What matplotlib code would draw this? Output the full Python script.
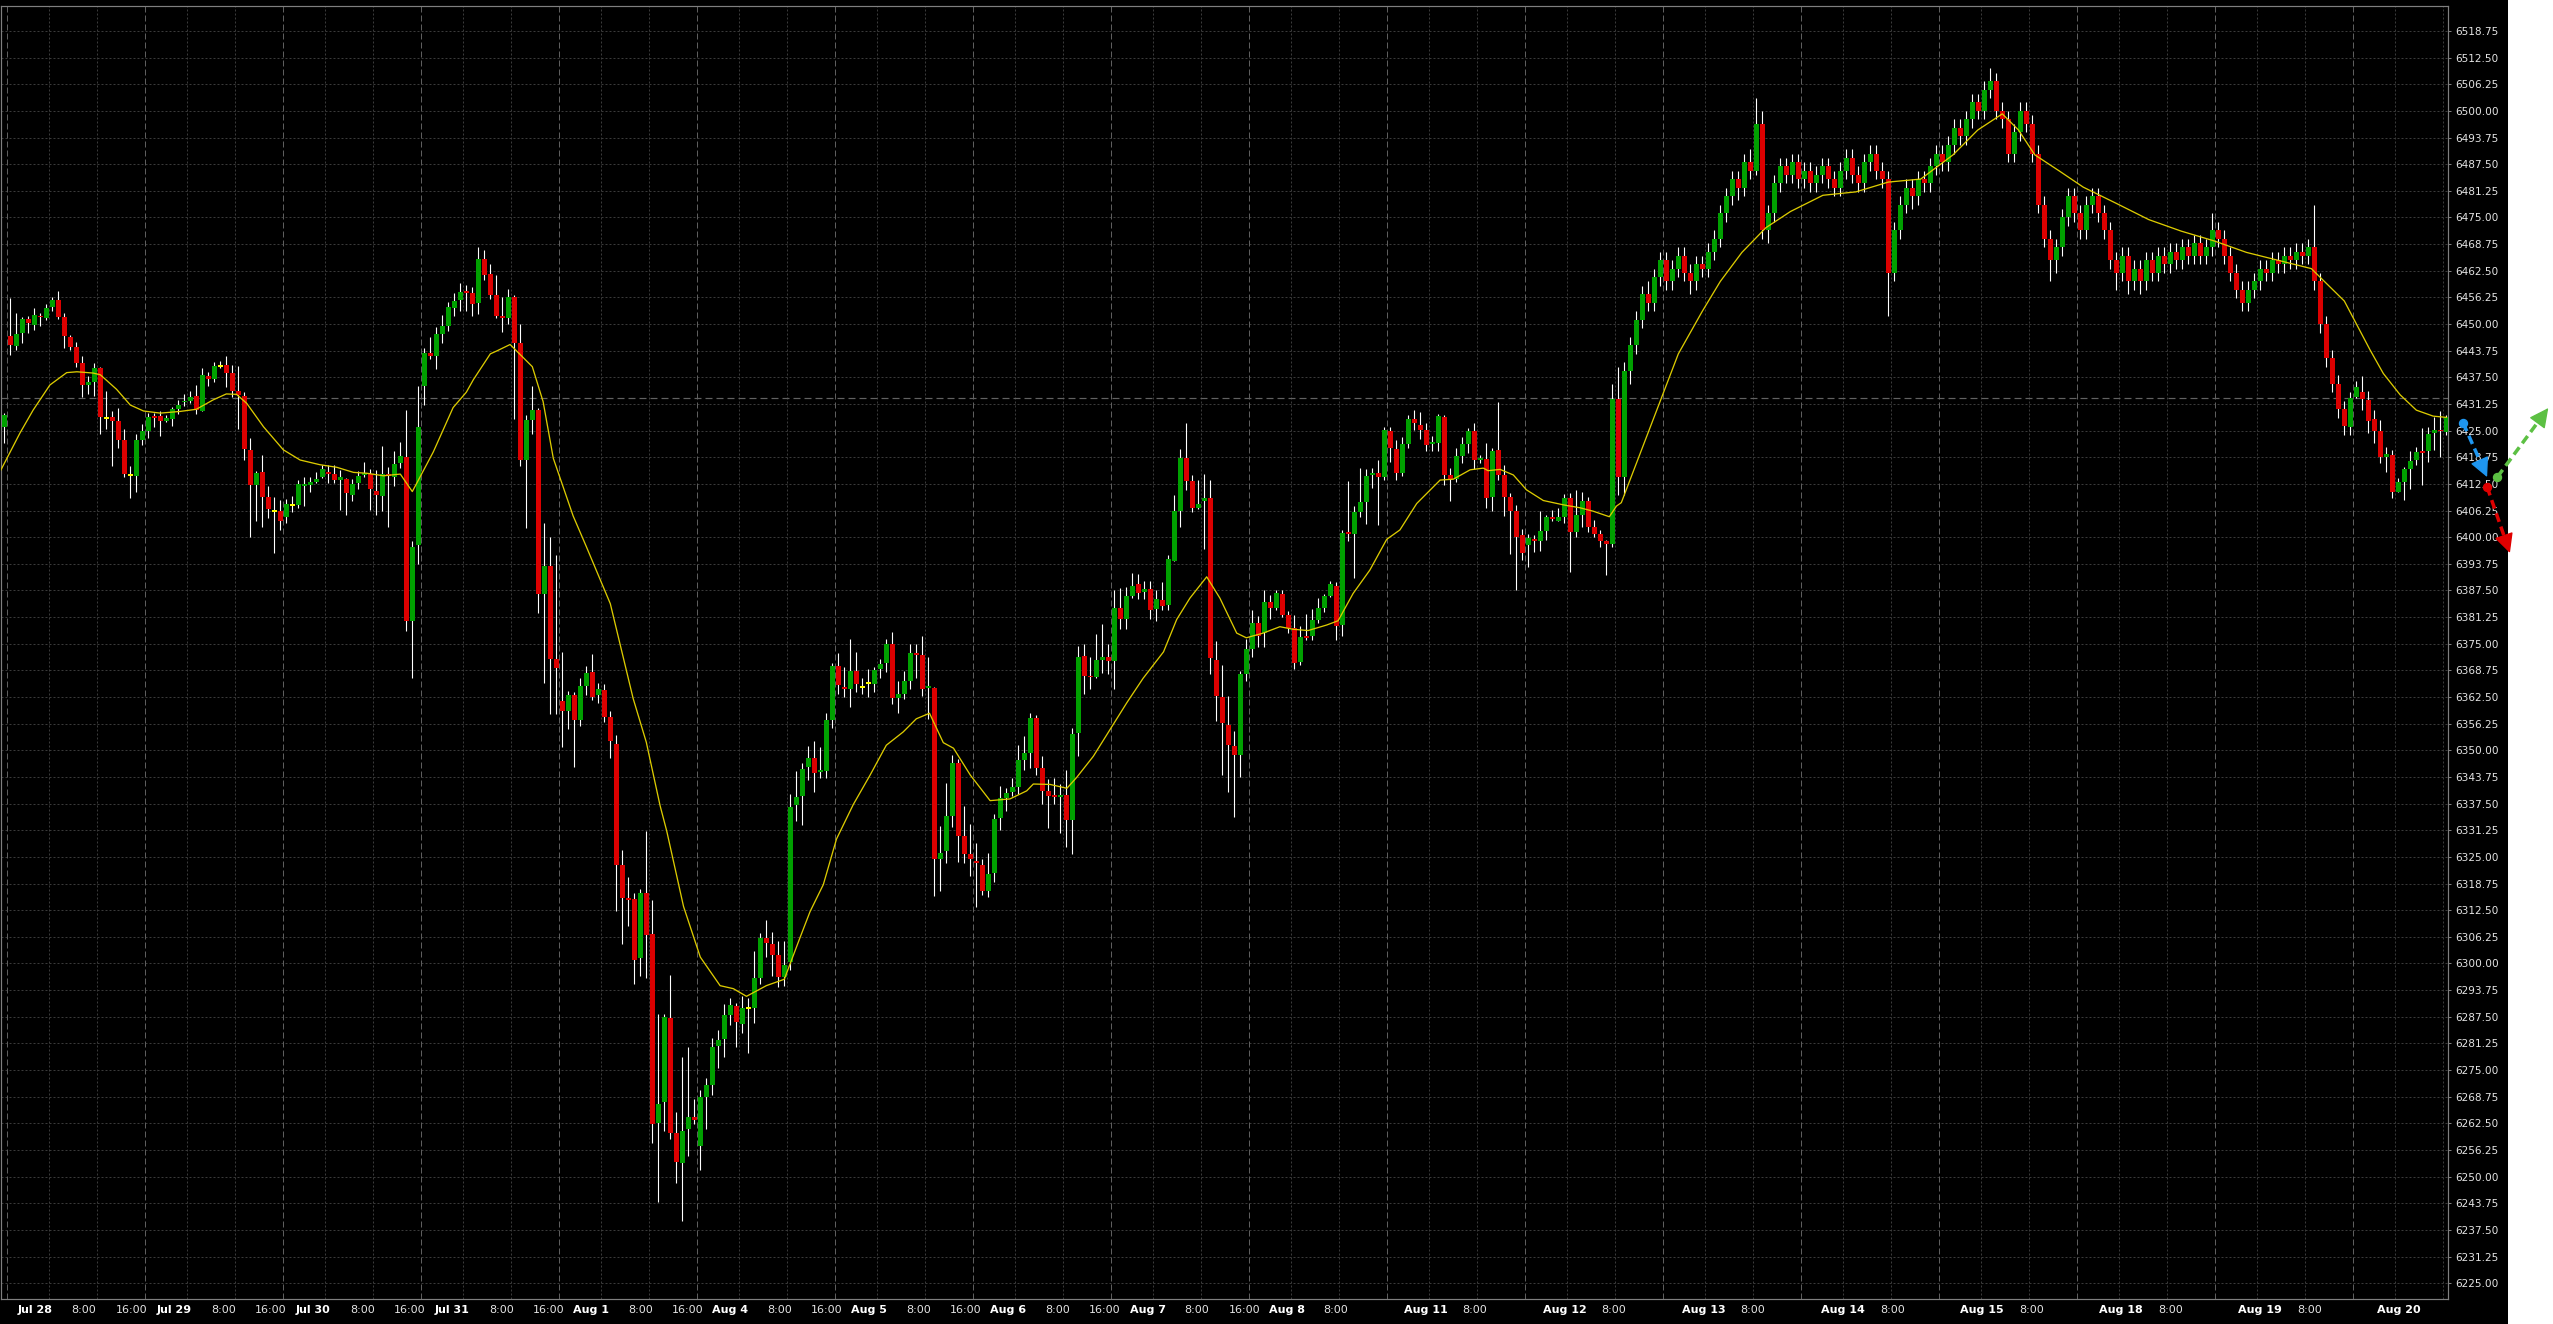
import numpy as np
import matplotlib
matplotlib.use("Agg")
import matplotlib.pyplot as plt
from matplotlib.patches import Rectangle

W, H, DPI = 2553, 1324, 100
PT = 72.0 / DPI          # points per pixel
plt.rcParams['lines.scale_dashes'] = False
plt.rcParams['font.family'] = ['DejaVu Sans']

# hourly bars, Jul 28 .. Aug 20 (23 bars per session)
opens = [
    6425.9, 6447.2, 6444.9, 6448.0, 6451.2, 6449.8, 6452.0, 6451.5, 6453.9, 6455.7,
    6451.6, 6447.0, 6444.7, 6440.9, 6435.6, 6436.3, 6439.8, 6428.0, 6428.1, 6427.3,
    6422.7, 6414.5, 6414.4, 6422.8, 6424.8, 6428.4, 6428.4, 6427.3, 6427.7, 6430.1,
    6431.6, 6432.0, 6433.2, 6429.7, 6437.9, 6437.1, 6440.2, 6440.4, 6438.5, 6434.3,
    6433.2, 6420.5, 6412.3, 6415.2, 6409.5, 6406.2, 6406.2, 6404.7, 6407.6, 6407.6,
    6412.1, 6412.3, 6413.0, 6414.0, 6415.3, 6414.8, 6413.5, 6413.6, 6409.9, 6412.7,
    6414.5, 6414.8, 6410.9, 6409.7, 6414.8, 6414.2, 6417.3, 6418.8, 6380.4, 6398.1,
    6435.4, 6443.2, 6442.5, 6447.7, 6449.6, 6453.8, 6455.7, 6457.8, 6457.3, 6454.9,
    6465.3, 6461.8, 6456.7, 6451.8, 6451.4, 6456.3, 6445.5, 6418.1, 6427.4, 6429.9,
    6386.7, 6393.3, 6371.4, 6361.5, 6359.3, 6363.0, 6357.0, 6365.2, 6368.4, 6363.0,
    6364.2, 6357.8, 6351.6, 6323.0, 6315.3, 6315.1, 6301.2, 6316.6, 6307.0, 6262.6,
    6267.4, 6287.1, 6260.3, 6253.1, 6261.1, 6264.0, 6257.1, 6268.6, 6271.4, 6280.7,
    6282.3, 6287.9, 6290.1, 6285.9, 6289.6, 6289.6, 6296.6, 6306.0, 6304.5, 6302.0,
    6296.8, 6300.3, 6337.1, 6339.3, 6346.0, 6348.2, 6345.0, 6345.2, 6357.2, 6369.7,
    6364.8, 6364.4, 6368.6, 6364.9, 6365.9, 6365.6, 6369.0, 6370.6, 6375.0, 6362.2,
    6363.3, 6366.2, 6372.9, 6372.3, 6364.6, 6364.6, 6324.5, 6326.3, 6334.6, 6347.0,
    6329.8, 6325.8, 6324.1, 6323.1, 6317.0, 6321.3, 6334.2, 6338.9, 6340.2, 6341.5,
    6347.8, 6349.3, 6357.6, 6345.9, 6340.5, 6339.6, 6339.0, 6339.5, 6333.6, 6354.0,
    6372.1, 6367.5, 6367.1, 6371.2, 6371.9, 6371.0, 6383.4, 6380.7, 6386.2, 6389.1,
    6387.2, 6387.8, 6383.2, 6385.3, 6384.1, 6394.5, 6406.2, 6418.6, 6413.1, 6406.8,
    6408.6, 6409.3, 6371.3, 6362.4, 6355.9, 6351.1, 6348.9, 6367.9, 6373.7, 6379.8,
    6377.6, 6384.7, 6383.5, 6386.6, 6381.8, 6378.6, 6370.7, 6376.8, 6376.8, 6380.6,
    6383.3, 6386.1, 6388.6, 6379.4, 6401.1, 6400.7, 6405.9, 6408.3, 6414.6, 6415.0,
    6414.0, 6424.8, 6420.7, 6415.0, 6421.9, 6427.7, 6426.3, 6425.2, 6421.8, 6422.2,
    6428.3, 6414.6, 6413.7, 6419.1, 6421.9, 6424.8, 6418.1, 6418.3, 6409.4, 6420.5,
    6414.6, 6409.5, 6406.2, 6400.5, 6398.2, 6399.5, 6399.0, 6401.5, 6404.8, 6403.8,
    6404.8, 6409.1, 6401.3, 6405.2, 6408.6, 6402.5, 6400.8, 6399.1, 6398.4, 6432.3,
    6414.2, 6439.0, 6445.0, 6451.0, 6457.0, 6455.0, 6461.0, 6465.0, 6460.0, 6463.0,
    6466.0, 6462.0, 6460.0, 6464.0, 6463.0, 6467.0, 6470.0, 6476.0, 6480.0, 6484.0,
    6482.0, 6488.0, 6486.0, 6497.0, 6472.0, 6476.0, 6483.0, 6487.0, 6485.0, 6488.0,
    6484.0, 6486.0, 6483.0, 6485.0, 6487.0, 6484.0, 6482.0, 6486.0, 6489.0, 6485.0,
    6483.0, 6488.0, 6490.0, 6486.0, 6484.0, 6462.0, 6472.0, 6478.0, 6482.0, 6480.0,
    6484.0, 6483.0, 6487.0, 6490.0, 6488.0, 6492.0, 6496.0, 6494.0, 6498.0, 6502.0,
    6500.0, 6505.0, 6507.0, 6500.0, 6498.0, 6490.0, 6495.0, 6500.0, 6497.0, 6490.0,
    6478.0, 6470.0, 6465.0, 6468.0, 6475.0, 6480.0, 6476.0, 6472.0, 6478.0, 6480.0,
    6476.0, 6472.0, 6465.0, 6462.0, 6466.0, 6460.0, 6463.0, 6460.0, 6465.0, 6462.0,
    6466.0, 6464.0, 6467.0, 6465.0, 6468.0, 6466.0, 6469.0, 6466.0, 6468.0, 6472.0,
    6470.0, 6466.0, 6462.0, 6458.0, 6455.0, 6458.0, 6460.0, 6463.0, 6462.0, 6465.0,
    6464.0, 6466.0, 6465.0, 6467.0, 6466.0, 6468.0, 6460.0, 6450.0, 6442.0, 6436.0,
    6430.0, 6425.9, 6433.0, 6434.0, 6432.2, 6427.7, 6424.9, 6418.7, 6419.3, 6410.7,
    6412.9, 6416.0, 6418.1, 6420.2, 6420.1, 6424.4, 6425.2, 6424.6,
]
highs = [
    6429.2, 6456.0, 6452.5, 6451.6, 6451.8, 6453.7, 6452.5, 6454.7, 6456.4, 6457.8,
    6452.5, 6447.4, 6445.9, 6442.4, 6437.7, 6440.8, 6440.0, 6434.3, 6429.5, 6430.2,
    6425.4, 6416.7, 6424.2, 6426.6, 6429.2, 6429.2, 6429.5, 6428.7, 6430.6, 6432.2,
    6433.7, 6434.4, 6435.7, 6439.8, 6438.8, 6441.2, 6441.4, 6442.5, 6440.4, 6440.2,
    6434.0, 6423.2, 6415.6, 6419.3, 6411.9, 6409.5, 6408.7, 6408.9, 6409.7, 6413.3,
    6414.2, 6414.2, 6415.4, 6417.0, 6417.0, 6417.0, 6415.8, 6413.8, 6413.6, 6415.6,
    6417.7, 6416.0, 6415.8, 6421.3, 6416.4, 6420.1, 6422.4, 6429.8, 6399.0, 6435.5,
    6444.4, 6446.9, 6449.2, 6452.1, 6455.2, 6457.3, 6459.7, 6459.1, 6458.8, 6468.0,
    6467.4, 6464.1, 6461.5, 6456.3, 6458.2, 6456.7, 6450.0, 6428.6, 6435.5, 6430.4,
    6403.4, 6400.0, 6395.8, 6373.0, 6364.0, 6363.7, 6367.0, 6369.9, 6372.6, 6365.9,
    6365.5, 6359.3, 6353.6, 6326.7, 6320.3, 6316.6, 6317.4, 6331.1, 6314.8, 6288.2,
    6288.2, 6297.4, 6265.2, 6278.1, 6280.5, 6268.2, 6270.4, 6273.1, 6282.5, 6284.5,
    6290.4, 6291.9, 6290.8, 6292.3, 6291.9, 6303.0, 6307.1, 6310.1, 6307.4, 6305.2,
    6305.2, 6339.7, 6345.2, 6347.1, 6351.1, 6352.2, 6350.8, 6358.7, 6370.6, 6372.8,
    6369.6, 6376.0, 6373.1, 6366.9, 6369.0, 6369.6, 6371.5, 6376.0, 6377.8, 6366.2,
    6368.7, 6375.0, 6375.0, 6376.9, 6371.9, 6364.8, 6332.3, 6342.4, 6348.9, 6348.0,
    6336.9, 6332.7, 6328.2, 6324.4, 6326.0, 6335.1, 6341.7, 6341.1, 6343.6, 6351.2,
    6353.3, 6358.7, 6358.3, 6348.6, 6343.2, 6343.6, 6342.0, 6345.3, 6355.3, 6374.4,
    6375.0, 6371.9, 6377.2, 6379.7, 6375.0, 6387.6, 6388.0, 6388.2, 6391.7, 6391.4,
    6389.7, 6389.7, 6387.6, 6389.5, 6395.8, 6409.8, 6420.6, 6426.8, 6414.6, 6413.3,
    6414.9, 6413.3, 6375.7, 6370.0, 6362.8, 6354.6, 6368.6, 6376.0, 6382.9, 6381.4,
    6387.6, 6386.4, 6387.5, 6387.5, 6382.8, 6381.8, 6379.2, 6382.0, 6383.1, 6385.7,
    6386.7, 6389.8, 6389.6, 6401.7, 6413.2, 6407.3, 6416.2, 6415.9, 6416.2, 6418.1,
    6425.9, 6425.9, 6422.8, 6423.4, 6428.7, 6429.8, 6429.4, 6426.7, 6423.7, 6428.9,
    6428.7, 6416.2, 6420.9, 6423.4, 6425.5, 6426.9, 6419.3, 6422.0, 6420.9, 6431.6,
    6416.9, 6410.3, 6407.6, 6401.9, 6400.8, 6400.5, 6406.2, 6405.2, 6406.4, 6406.8,
    6410.1, 6410.3, 6411.1, 6410.7, 6409.5, 6404.0, 6401.7, 6399.4, 6436.0, 6440.0,
    6441.0, 6447.0, 6453.0, 6459.0, 6460.0, 6463.0, 6467.0, 6467.0, 6465.0, 6468.0,
    6468.0, 6464.0, 6466.0, 6466.0, 6469.0, 6472.0, 6478.0, 6482.0, 6486.0, 6486.0,
    6490.0, 6491.0, 6503.0, 6500.0, 6478.0, 6485.0, 6489.0, 6489.0, 6490.0, 6490.0,
    6488.0, 6488.0, 6487.0, 6489.0, 6489.0, 6486.0, 6488.0, 6491.0, 6491.0, 6487.0,
    6490.0, 6492.0, 6492.0, 6488.0, 6486.0, 6474.0, 6480.0, 6484.0, 6484.0, 6486.0,
    6486.0, 6489.0, 6492.0, 6492.0, 6494.0, 6498.0, 6498.0, 6500.0, 6504.0, 6504.0,
    6507.0, 6510.0, 6509.0, 6502.0, 6500.0, 6497.0, 6502.0, 6502.0, 6499.0, 6492.0,
    6480.0, 6472.0, 6470.0, 6477.0, 6482.0, 6482.0, 6478.0, 6480.0, 6482.0, 6482.0,
    6478.0, 6474.0, 6467.0, 6468.0, 6468.0, 6465.0, 6465.0, 6467.0, 6467.0, 6468.0,
    6468.0, 6469.0, 6469.0, 6470.0, 6470.0, 6471.0, 6471.0, 6470.0, 6476.0, 6474.0,
    6472.0, 6468.0, 6464.0, 6460.0, 6460.0, 6462.0, 6465.0, 6465.0, 6467.0, 6467.0,
    6468.0, 6468.0, 6469.0, 6469.0, 6470.0, 6478.0, 6462.0, 6452.0, 6444.0, 6438.0,
    6432.0, 6434.0, 6436.6, 6437.8, 6434.3, 6429.8, 6427.5, 6421.2, 6420.5, 6413.8,
    6416.4, 6420.1, 6421.2, 6425.5, 6425.8, 6428.3, 6429.5, 6428.7,
]
lows = [
    6422.0, 6442.7, 6443.8, 6445.6, 6447.8, 6448.5, 6449.6, 6451.0, 6453.1, 6451.1,
    6444.3, 6443.8, 6440.0, 6433.0, 6433.6, 6433.1, 6424.2, 6425.4, 6416.8, 6420.9,
    6414.1, 6409.1, 6410.5, 6421.6, 6423.2, 6425.9, 6423.7, 6427.1, 6426.1, 6428.8,
    6430.8, 6431.4, 6428.9, 6429.5, 6435.5, 6436.3, 6439.6, 6435.3, 6433.0, 6425.3,
    6418.1, 6400.0, 6403.8, 6402.3, 6404.4, 6396.2, 6401.7, 6403.4, 6406.0, 6406.9,
    6407.3, 6410.5, 6412.8, 6413.8, 6412.6, 6412.8, 6406.4, 6405.2, 6408.4, 6411.2,
    6414.2, 6406.4, 6405.1, 6406.2, 6402.3, 6412.0, 6416.2, 6377.9, 6367.0, 6393.6,
    6431.1, 6441.9, 6439.5, 6445.5, 6448.4, 6451.8, 6453.0, 6453.0, 6451.8, 6452.3,
    6460.3, 6455.8, 6451.4, 6448.1, 6449.9, 6427.7, 6416.7, 6402.2, 6424.1, 6382.2,
    6365.9, 6358.5, 6358.5, 6350.7, 6355.1, 6346.2, 6355.6, 6363.0, 6361.9, 6361.0,
    6356.6, 6348.2, 6312.2, 6304.5, 6308.9, 6295.3, 6297.1, 6296.6, 6257.8, 6244.0,
    6260.8, 6258.8, 6248.5, 6239.7, 6254.9, 6262.3, 6251.5, 6261.1, 6269.2, 6275.6,
    6278.1, 6285.5, 6280.5, 6283.7, 6279.0, 6286.0, 6295.3, 6301.5, 6297.1, 6294.4,
    6294.8, 6298.5, 6333.4, 6332.6, 6343.0, 6340.3, 6343.6, 6343.6, 6355.3, 6363.1,
    6362.5, 6360.2, 6363.7, 6363.3, 6362.5, 6363.7, 6366.9, 6368.4, 6360.8, 6358.7,
    6362.1, 6364.3, 6366.9, 6362.8, 6357.4, 6315.9, 6316.9, 6323.5, 6332.1, 6323.9,
    6323.5, 6320.6, 6313.2, 6316.0, 6315.7, 6319.1, 6331.4, 6335.7, 6339.2, 6339.8,
    6345.5, 6345.8, 6344.2, 6337.3, 6331.7, 6337.3, 6330.7, 6327.3, 6325.6, 6348.6,
    6363.3, 6364.3, 6366.9, 6368.1, 6367.9, 6364.3, 6378.4, 6378.4, 6385.7, 6385.4,
    6385.4, 6380.9, 6380.4, 6382.9, 6382.9, 6394.3, 6402.3, 6411.1, 6405.8, 6406.5,
    6397.3, 6367.9, 6356.8, 6344.1, 6340.3, 6334.3, 6343.7, 6366.3, 6371.8, 6374.3,
    6374.3, 6380.7, 6382.9, 6381.2, 6377.5, 6369.0, 6370.0, 6375.9, 6375.9, 6379.8,
    6382.5, 6385.9, 6375.9, 6376.8, 6399.0, 6390.5, 6404.8, 6403.1, 6411.5, 6402.9,
    6413.3, 6417.7, 6413.3, 6414.4, 6420.9, 6425.2, 6423.0, 6420.3, 6420.1, 6420.1,
    6412.3, 6408.6, 6413.0, 6417.3, 6419.7, 6415.9, 6417.3, 6406.9, 6406.1, 6413.4,
    6405.0, 6396.1, 6387.6, 6394.7, 6393.1, 6396.6, 6396.8, 6399.4, 6403.7, 6403.7,
    6403.4, 6391.9, 6400.0, 6402.5, 6401.1, 6400.1, 6397.8, 6391.2, 6397.6, 6409.9,
    6410.0, 6436.0, 6443.0, 6449.0, 6453.0, 6453.0, 6459.0, 6458.0, 6458.0, 6461.0,
    6460.0, 6457.0, 6458.0, 6461.0, 6461.0, 6465.0, 6468.0, 6474.0, 6478.0, 6479.0,
    6480.0, 6484.0, 6485.0, 6470.0, 6469.0, 6474.0, 6481.0, 6483.0, 6483.0, 6482.0,
    6482.0, 6481.0, 6481.0, 6483.0, 6482.0, 6480.0, 6480.0, 6484.0, 6483.0, 6481.0,
    6481.0, 6486.0, 6484.0, 6482.0, 6452.0, 6460.0, 6470.0, 6476.0, 6477.0, 6478.0,
    6481.0, 6481.0, 6485.0, 6486.0, 6486.0, 6490.0, 6492.0, 6492.0, 6496.0, 6498.0,
    6498.0, 6503.0, 6498.0, 6496.0, 6488.0, 6488.0, 6493.0, 6495.0, 6488.0, 6476.0,
    6468.0, 6460.0, 6462.0, 6466.0, 6473.0, 6474.0, 6470.0, 6470.0, 6476.0, 6474.0,
    6470.0, 6463.0, 6458.0, 6460.0, 6457.0, 6458.0, 6457.0, 6458.0, 6460.0, 6460.0,
    6462.0, 6462.0, 6463.0, 6463.0, 6464.0, 6464.0, 6464.0, 6464.0, 6466.0, 6468.0,
    6464.0, 6460.0, 6456.0, 6453.0, 6453.0, 6456.0, 6458.0, 6460.0, 6460.0, 6462.0,
    6462.0, 6463.0, 6463.0, 6464.0, 6464.0, 6458.0, 6448.0, 6440.0, 6434.0, 6428.0,
    6424.0, 6424.0, 6432.6, 6429.8, 6424.5, 6422.2, 6417.3, 6415.2, 6409.3, 6410.5,
    6408.7, 6411.2, 6416.9, 6412.3, 6417.7, 6420.5, 6418.7, 6424.0,
]
closes = [
    6428.7, 6445.1, 6447.7, 6451.2, 6450.2, 6452.1, 6451.6, 6453.7, 6455.7, 6451.6,
    6447.2, 6444.7, 6440.9, 6435.6, 6436.3, 6439.8, 6428.3, 6428.0, 6427.3, 6422.7,
    6414.8, 6414.5, 6422.8, 6424.8, 6428.3, 6428.0, 6427.3, 6428.0, 6430.1, 6431.0,
    6432.0, 6433.0, 6429.9, 6438.1, 6437.1, 6440.2, 6440.2, 6438.5, 6434.3, 6433.4,
    6420.7, 6412.3, 6415.1, 6409.5, 6406.5, 6406.2, 6403.7, 6407.8, 6407.6, 6412.5,
    6412.5, 6413.0, 6413.7, 6416.0, 6414.9, 6413.4, 6414.0, 6410.3, 6412.5, 6414.4,
    6415.1, 6411.2, 6409.9, 6414.8, 6414.4, 6417.2, 6419.1, 6380.4, 6397.8, 6425.9,
    6443.2, 6442.5, 6447.7, 6449.6, 6454.1, 6455.5, 6457.6, 6457.3, 6454.8, 6465.3,
    6461.5, 6456.7, 6451.8, 6451.4, 6456.3, 6445.5, 6418.1, 6427.4, 6429.9, 6386.7,
    6393.3, 6371.4, 6369.2, 6359.3, 6363.0, 6357.0, 6365.2, 6368.2, 6362.5, 6364.4,
    6357.8, 6352.2, 6323.0, 6315.3, 6314.8, 6300.8, 6316.6, 6306.7, 6262.3, 6267.1,
    6287.4, 6260.3, 6253.4, 6260.8, 6264.0, 6263.3, 6268.6, 6271.4, 6280.5, 6282.0,
    6287.9, 6290.2, 6286.2, 6289.6, 6289.6, 6296.6, 6306.0, 6304.8, 6302.0, 6296.8,
    6299.7, 6336.8, 6339.0, 6345.6, 6348.2, 6344.8, 6345.5, 6357.2, 6369.7, 6365.4,
    6364.4, 6368.6, 6365.6, 6364.9, 6365.9, 6368.9, 6370.2, 6375.0, 6362.2, 6363.3,
    6366.2, 6372.9, 6372.3, 6364.3, 6365.1, 6324.5, 6326.0, 6334.6, 6347.0, 6329.8,
    6325.8, 6324.4, 6323.5, 6317.0, 6321.0, 6333.9, 6338.9, 6340.1, 6341.5, 6347.8,
    6349.3, 6357.6, 6345.9, 6340.5, 6339.2, 6339.1, 6339.5, 6333.6, 6353.9, 6371.9,
    6367.5, 6367.1, 6371.2, 6371.9, 6371.0, 6383.4, 6380.7, 6386.2, 6388.5, 6386.9,
    6387.8, 6382.9, 6385.5, 6383.8, 6394.8, 6406.1, 6418.6, 6413.1, 6406.8, 6407.7,
    6409.3, 6371.6, 6362.8, 6356.3, 6351.3, 6348.9, 6367.9, 6373.7, 6379.8, 6376.8,
    6384.7, 6383.5, 6386.8, 6381.8, 6378.6, 6370.6, 6376.5, 6376.4, 6380.6, 6383.3,
    6386.1, 6389.0, 6379.2, 6400.9, 6400.7, 6405.9, 6408.3, 6414.4, 6415.0, 6414.0,
    6425.2, 6420.9, 6415.0, 6421.9, 6427.7, 6426.7, 6425.2, 6421.6, 6422.4, 6428.4,
    6414.6, 6413.7, 6419.1, 6421.9, 6424.8, 6418.0, 6418.5, 6409.3, 6420.3, 6414.6,
    6409.5, 6406.2, 6400.1, 6396.4, 6399.9, 6399.1, 6401.5, 6404.7, 6404.2, 6404.8,
    6409.1, 6401.3, 6405.2, 6408.6, 6402.5, 6400.8, 6399.0, 6398.4, 6432.3, 6414.2,
    6439.0, 6445.0, 6451.0, 6457.0, 6455.0, 6461.0, 6465.0, 6460.0, 6463.0, 6466.0,
    6462.0, 6460.0, 6464.0, 6463.0, 6467.0, 6470.0, 6476.0, 6480.0, 6484.0, 6482.0,
    6488.0, 6486.0, 6497.0, 6472.0, 6476.0, 6483.0, 6487.0, 6485.0, 6488.0, 6484.0,
    6486.0, 6483.0, 6485.0, 6487.0, 6484.0, 6482.0, 6486.0, 6489.0, 6485.0, 6483.0,
    6488.0, 6490.0, 6486.0, 6484.0, 6462.0, 6472.0, 6478.0, 6482.0, 6480.0, 6484.0,
    6483.0, 6487.0, 6490.0, 6488.0, 6492.0, 6496.0, 6494.0, 6498.0, 6502.0, 6500.0,
    6505.0, 6507.0, 6500.0, 6498.0, 6490.0, 6495.0, 6500.0, 6497.0, 6490.0, 6478.0,
    6470.0, 6465.0, 6468.0, 6475.0, 6480.0, 6476.0, 6472.0, 6478.0, 6480.0, 6476.0,
    6472.0, 6465.0, 6462.0, 6466.0, 6460.0, 6463.0, 6460.0, 6465.0, 6462.0, 6466.0,
    6464.0, 6467.0, 6465.0, 6468.0, 6466.0, 6469.0, 6466.0, 6468.0, 6472.0, 6470.0,
    6466.0, 6462.0, 6458.0, 6455.0, 6458.0, 6460.0, 6463.0, 6462.0, 6465.0, 6464.0,
    6466.0, 6465.0, 6467.0, 6466.0, 6468.0, 6460.0, 6450.0, 6442.0, 6436.0, 6430.0,
    6426.0, 6432.6, 6435.3, 6432.3, 6427.3, 6424.9, 6418.7, 6419.5, 6410.7, 6412.9,
    6416.0, 6417.9, 6420.0, 6419.7, 6424.2, 6425.2, 6424.8, 6428.1,
]

# moving average: (bar, price)
ma_points = [
    (-0.7, 6415.4), (2.6, 6424.4), (4.8, 6429.8), (7.6, 6435.7), (10.4, 6438.6),
    (12.1, 6438.8), (14.8, 6438.5), (16, 6438.1), (18.7, 6434.7), (21, 6431.0),
    (23.2, 6429.6), (26, 6429.1), (29.3, 6429.5), (32, 6430.0), (34.8, 6432.2),
    (37, 6433.6), (38.7, 6433.5), (40.4, 6431.4), (43.2, 6425.9), (46.5, 6420.5),
    (49.3, 6418.1), (52.6, 6417.0), (55.4, 6416.4), (58.2, 6415.2), (60.4, 6415.0),
    (63.2, 6414.4), (66, 6414.8), (68, 6410.7), (71.5, 6420.0), (74.8, 6430.4),
    (77, 6434.0), (78.2, 6437.0), (81, 6443.0), (82.1, 6443.7), (84.3, 6445.2),
    (88, 6440.0), (89.8, 6431.8), (91.5, 6418.5), (94.8, 6405.0), (97, 6397.8),
    (101, 6384.4), (104.8, 6362.2), (107, 6351.9), (109.3, 6337.0), (110.4, 6331.1),
    (113.2, 6313.4), (116, 6301.5), (119.3, 6294.8), (121.5, 6294.1), (123.7, 6292.3),
    (127, 6294.8), (130, 6296.3), (132.6, 6306.0), (134.3, 6312.2), (136.5, 6318.5),
    (138.7, 6329.2), (141.5, 6337.3), (144.3, 6344.2), (147, 6351.2), (149.8, 6354.3),
    (152, 6357.4), (154.2, 6358.7), (156.5, 6351.8), (158.2, 6350.5), (161, 6344.2),
    (164.3, 6338.2), (167.6, 6338.6), (170.4, 6340.5), (171.5, 6342.1), (174.3, 6342.0),
    (177.1, 6341.1), (178.7, 6343.6), (181.5, 6348.6), (184.3, 6354.9), (187.1, 6361.2),
    (189.8, 6366.9), (193.2, 6373.1), (195.4, 6380.7), (197.6, 6385.7), (200.4, 6390.7),
    (202.6, 6385.7), (205.4, 6377.5), (207, 6376.4), (209.8, 6377.5), (212.6, 6379.0),
    (214.8, 6378.4), (217.3, 6378.1), (220.4, 6379.4), (222.3, 6380.4), (224.8, 6386.8),
    (227.6, 6392.3), (230.4, 6399.5), (232.6, 6401.7), (235.4, 6407.9), (239.3, 6413.4),
    (241.5, 6413.6), (244.3, 6415.8), (246.5, 6416.2), (247.3, 6415.6), (249.3, 6415.9),
    (251.5, 6414.6), (253.7, 6411.1), (256.5, 6408.6), (259.8, 6407.6), (262.6, 6406.9),
    (264.8, 6406.1), (267.5, 6404.8), (268.7, 6407.3), (269.5, 6408.1), (272.6, 6419.5),
    (276, 6432.0), (279, 6443.0), (283, 6453.0), (286, 6460.0), (289.6, 6466.8),
    (293.6, 6472.6), (297.7, 6476.4), (303.1, 6480.2), (308.6, 6481.0), (314.0, 6483.3),
    (319.4, 6484.0), (324.8, 6489.7), (328.9, 6495.5), (333.0, 6499.3), (335.7, 6495.5),
    (338.4, 6489.7), (342.5, 6485.9), (346.5, 6482.1), (352.0, 6478.3), (357.4, 6474.5),
    (362.8, 6471.8), (368.3, 6469.5), (373.7, 6466.8), (379.1, 6464.9), (384.5, 6463.0),
    (390.0, 6455.4), (394.3, 6443.9), (396.5, 6438.4), (399.3, 6433.4), (402, 6429.8),
    (404.8, 6428.4), (407, 6428.1),
]

day_labels = ["Jul 28", "Jul 29", "Jul 30", "Jul 31", "Aug 1", "Aug 4", "Aug 5",
              "Aug 6", "Aug 7", "Aug 8", "Aug 11", "Aug 12", "Aug 13", "Aug 14",
              "Aug 15", "Aug 18", "Aug 19", "Aug 20"]
hour_labels = ["8:00", "16:00"]
BARS_PER_DAY = 23

bid_price = 6432.75

# projection arrows: (start bar, start price, end bar, end price, colour)
arrows = [
    (409.8, 6426.8, 413.8, 6414.1, '#1e96f0'),
    (415.5, 6414.1, 424.0, 6430.3, '#5cc043'),
    (413.8, 6411.8, 417.6, 6396.3, '#e00000'),
]

# ---------------------------------------------------------------
fig = plt.figure(figsize=(W / DPI, H / DPI), dpi=DPI, facecolor='white')
fig.add_artist(Rectangle((0, 0), 2508 / W, 1, transform=fig.transFigure,
                         facecolor='black', edgecolor='none', zorder=-10))
ax = fig.add_axes([1 / W, (H - 1299) / H, 2447 / W, 1293 / H])
ax.set_facecolor('black')
ax.set_xlim(-0.55, 407.28)
ax.set_ylim(6221.3, 6524.6)

o = np.array(opens); hi = np.array(highs); lo = np.array(lows); c = np.array(closes)
x = np.arange(len(o))

# grid
yt = np.arange(6225.0, 6519.0, 6.25)
for y in yt:
    ax.axhline(y, color='#3a3a3a', lw=1 * PT, dashes=(2 * PT, 2 * PT), zorder=0)
for k in range(len(day_labels)):
    base = 0.5 + BARS_PER_DAY * k
    ax.axvline(base, color='#5e5e5e', lw=1 * PT, dashes=(6 * PT, 3 * PT), zorder=0)
    for off in (7, 15):
        if base + off < 407:
            ax.axvline(base + off, color='#3a3a3a', lw=1 * PT,
                       dashes=(2 * PT, 2 * PT), zorder=0)
ax.axhline(bid_price, color='#616161', lw=1.2 * PT, dashes=(7 * PT, 4 * PT), zorder=1)

# candles
ax.vlines(x, lo, hi, color='white', lw=1.1 * PT, zorder=2)
up = c > o
dn = c < o
eq = c == o
body = np.maximum(np.abs(c - o), 0.35)
bot = np.minimum(o, c)
ax.bar(x[up], body[up], bottom=bot[up], width=0.8, color='#00a000', lw=0, zorder=3)
ax.bar(x[dn], body[dn], bottom=bot[dn], width=0.8, color='#dc0000', lw=0, zorder=3)
ax.hlines(c[eq], x[eq] - 0.4, x[eq] + 0.4, color='#ffff00', lw=2 * PT, zorder=3)

# moving average
mx, my = zip(*ma_points)
ax.plot(mx, my, color='#dccb00', lw=1.3 * PT, zorder=4)

# axes styling
for s in ax.spines.values():
    s.set_color('#7f7f7f')
    s.set_linewidth(1.2 * PT)
ax.set_xticks([])
ax.yaxis.tick_right()
ax.set_yticks(yt)
ax.set_yticklabels([f"{v:.2f}" for v in yt])
ax.tick_params(axis='y', length=3 * PT, width=1 * PT, color='#7f7f7f',
               labelcolor='#e4e4e4', labelsize=7.6, pad=3)

# time labels
lab_y = -11 / 1293
for k, name in enumerate(day_labels):
    pos = 5.1 + 23.18 * k
    ax.text(pos, lab_y, name, transform=ax.get_xaxis_transform(), ha='center',
            va='center', color='white', fontsize=8, fontweight='bold')
    if k < len(day_labels) - 1:
        ax.text(pos + 8.2, lab_y, hour_labels[0], transform=ax.get_xaxis_transform(),
                ha='center', va='center', color='#e4e4e4', fontsize=8)
    if k < 9:
        ax.text(pos + 16.1, lab_y, hour_labels[1], transform=ax.get_xaxis_transform(),
                ha='center', va='center', color='#e4e4e4', fontsize=8)

# projection arrows outside the plot
for x0, y0, x1, y1, col in arrows:
    xe = x0 + (x1 - x0) * 0.8
    ye = y0 + (y1 - y0) * 0.8
    ax.plot([x0, xe], [y0, ye], color=col, lw=3.5 * PT, dashes=(9 * PT, 5 * PT),
            clip_on=False, zorder=6, solid_capstyle='butt', dash_capstyle='butt')
    ax.plot([x0], [y0], 'o', color=col, ms=8 * PT, clip_on=False, zorder=6)
    ax.annotate('', xy=(x1, y1), xytext=(xe, ye), annotation_clip=False,
                arrowprops=dict(arrowstyle='-|>,head_length=0.6,head_width=0.3',
                                color=col, lw=1, mutation_scale=20,
                                shrinkA=0, shrinkB=0), zorder=6)

fig.savefig('out.png', dpi=DPI, facecolor=fig.get_facecolor())
